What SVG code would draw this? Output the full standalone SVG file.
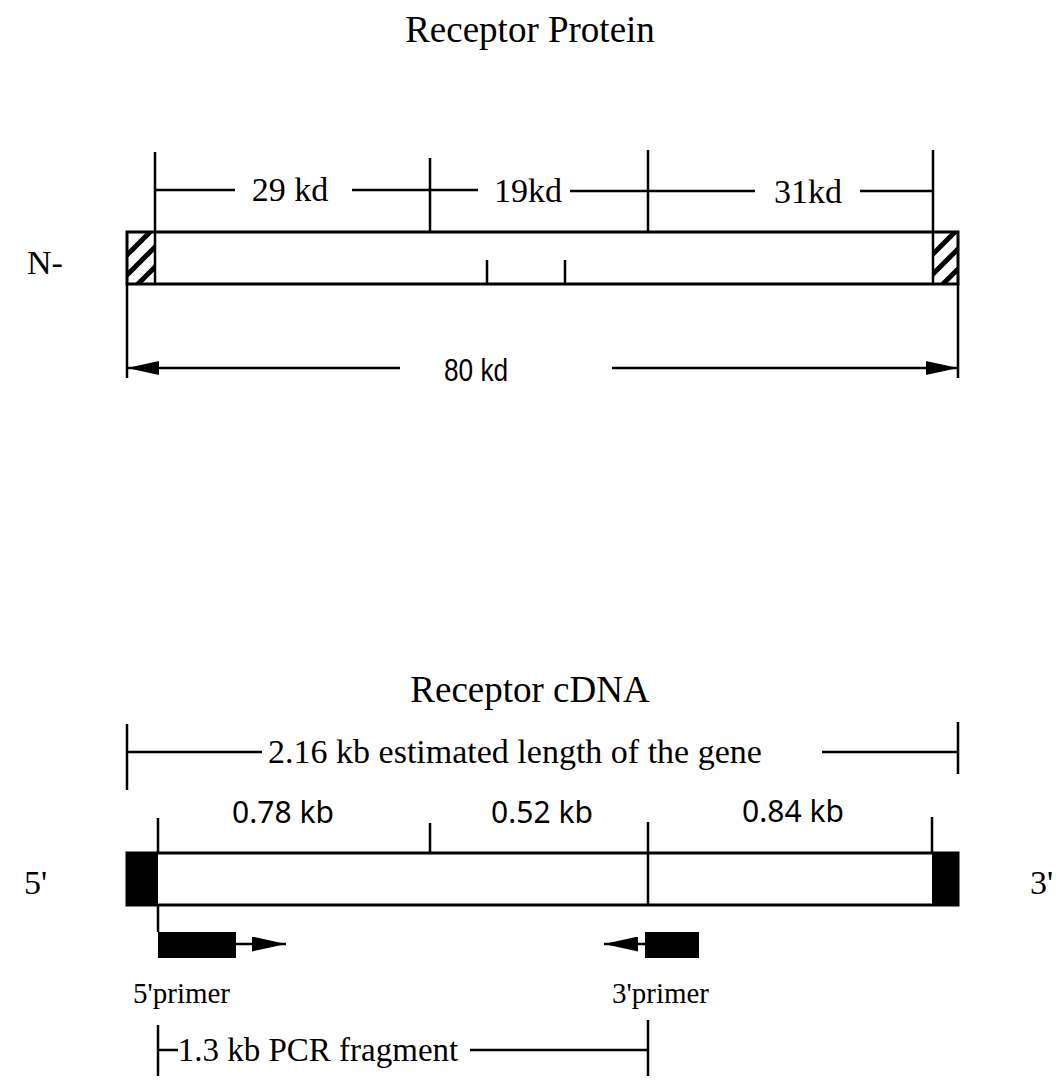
<svg xmlns="http://www.w3.org/2000/svg" width="1064" height="1088" viewBox="0 0 1064 1088">
<style>
text{font-family:"Liberation Serif","Times New Roman",serif;fill:#000}
.t{font-size:37px}
.l{font-size:34px}
.f{font-size:33px}
.p{font-size:29px}
.s{font-family:"Noto Sans","Open Sans",sans-serif;font-size:30px}
.n{font-family:"Liberation Sans","Arial",sans-serif;font-size:32px}
.ln{stroke:#000;stroke-width:2.5;fill:none}
.bar{stroke:#000;stroke-width:3;fill:#fff}
.hatch{stroke:#000;stroke-width:5}
</style>
<defs>
<clipPath id="cl"><rect x="127" y="232" width="28" height="52"/></clipPath>
<clipPath id="cr"><rect x="933" y="232" width="25" height="52"/></clipPath>
<marker id="ah" viewBox="0 0 32 14" refX="32" refY="7" markerWidth="32" markerHeight="14" markerUnits="userSpaceOnUse" orient="auto"><path d="M0,0 L32,7 L0,14 z" fill="#000"/></marker>
<marker id="ph" viewBox="0 0 34 15" refX="34" refY="7.5" markerWidth="34" markerHeight="15" markerUnits="userSpaceOnUse" orient="auto"><path d="M0,0 L34,7.5 L0,15 z" fill="#000"/></marker>
</defs>
<rect width="1064" height="1088" fill="#fff"/>

<g id="title-protein"><text class="t" x="530" y="42" text-anchor="middle">Receptor Protein</text></g>
<g id="label-N"><text class="l" x="27" y="274">N-</text></g>

<g id="protein-bar">
<rect class="bar" x="127" y="232" width="831" height="52"/>
<g clip-path="url(#cl)"><line class="hatch" x1="120" y1="262" x2="160" y2="222"/><line class="hatch" x1="120" y1="282" x2="160" y2="242"/><line class="hatch" x1="120" y1="302" x2="160" y2="262"/></g>
<line class="ln" x1="155" y1="232" x2="155" y2="284"/>
<g clip-path="url(#cr)"><line class="hatch" x1="925" y1="262" x2="965" y2="222"/><line class="hatch" x1="925" y1="282" x2="965" y2="242"/><line class="hatch" x1="925" y1="302" x2="965" y2="262"/></g>
<line class="ln" x1="933" y1="232" x2="933" y2="284"/>
<line class="ln" x1="487" y1="260" x2="487" y2="284"/>
<line class="ln" x1="565" y1="260" x2="565" y2="284"/>
</g>

<g id="label-29kd"><text class="l" x="290" y="201" text-anchor="middle">29 kd</text></g>
<g id="label-19kd"><text class="l" x="528" y="202" text-anchor="middle">19kd</text></g>
<g id="label-31kd"><text class="l" x="808" y="203" text-anchor="middle">31kd</text></g>
<g id="label-80kd"><text class="n" x="0" y="0" text-anchor="middle" transform="translate(476 381) scale(0.82 1)">80 kd</text></g>

<g id="title-cdna"><text class="t" x="530" y="702" text-anchor="middle">Receptor cDNA</text></g>
<g id="label-5"><text class="l" x="24" y="894">5'</text></g>
<g id="label-3"><text class="l" x="1030" y="894">3'</text></g>

<g id="cdna-bar">
<rect class="bar" x="127" y="853" width="831" height="52"/>
<rect x="127" y="853" width="31" height="52" fill="#000"/>
<rect x="932" y="853" width="26" height="52" fill="#000"/>
<line class="ln" x1="648" y1="853" x2="648" y2="905"/>
</g>

<g id="label-216"><text class="l" x="515" y="763" text-anchor="middle">2.16 kb estimated length of the gene</text></g>
<g id="label-078"><text class="s" x="283" y="823" text-anchor="middle">0.78 kb</text></g>
<g id="label-052"><text class="s" x="542" y="823" text-anchor="middle">0.52 kb</text></g>
<g id="label-084"><text class="s" x="793" y="822" text-anchor="middle">0.84 kb</text></g>

<g id="primer-5">
<rect x="158" y="932" width="78" height="26" fill="#000"/>
<text class="p" x="133" y="1003">5'primer</text>
</g>
<g id="primer-3">
<rect x="645" y="932" width="54" height="26" fill="#000"/>
<text class="p" x="612" y="1003">3'primer</text>
</g>
<g id="label-13"><text class="f" x="318" y="1061" text-anchor="middle">1.3 kb PCR fragment</text></g>

<g id="connectors">
<line class="ln" x1="155" y1="152" x2="155" y2="232"/>
<line class="ln" x1="430" y1="158" x2="430" y2="232"/>
<line class="ln" x1="648" y1="150" x2="648" y2="232"/>
<line class="ln" x1="933" y1="150" x2="933" y2="232"/>
<line class="ln" x1="155" y1="190" x2="235" y2="190"/>
<line class="ln" x1="352" y1="190" x2="478" y2="190"/>
<line class="ln" x1="570" y1="191" x2="755" y2="191"/>
<line class="ln" x1="860" y1="191" x2="933" y2="191"/>
<line class="ln" x1="127" y1="284" x2="127" y2="378"/>
<line class="ln" x1="958" y1="284" x2="958" y2="378"/>
<line class="ln" x1="400" y1="368" x2="127" y2="368" marker-end="url(#ah)"/>
<line class="ln" x1="612" y1="368" x2="958" y2="368" marker-end="url(#ah)"/>
<line class="ln" x1="127" y1="724" x2="127" y2="790"/>
<line class="ln" x1="958" y1="722" x2="958" y2="774"/>
<line class="ln" x1="127" y1="752" x2="262" y2="752"/>
<line class="ln" x1="822" y1="752" x2="958" y2="752"/>
<line class="ln" x1="158" y1="818" x2="158" y2="853"/>
<line class="ln" x1="430" y1="823" x2="430" y2="853"/>
<line class="ln" x1="648" y1="822" x2="648" y2="853"/>
<line class="ln" x1="932" y1="817" x2="932" y2="853"/>
<line class="ln" x1="158" y1="905" x2="158" y2="932"/>
<line class="ln" x1="236" y1="944" x2="286" y2="944" marker-end="url(#ph)"/>
<line class="ln" x1="645" y1="944" x2="604" y2="944" marker-end="url(#ph)"/>
<line class="ln" x1="158" y1="1025" x2="158" y2="1076"/>
<line class="ln" x1="648" y1="1020" x2="648" y2="1076"/>
<line class="ln" x1="158" y1="1050" x2="178" y2="1050"/>
<line class="ln" x1="470" y1="1050" x2="648" y2="1050"/>
</g>
</svg>
